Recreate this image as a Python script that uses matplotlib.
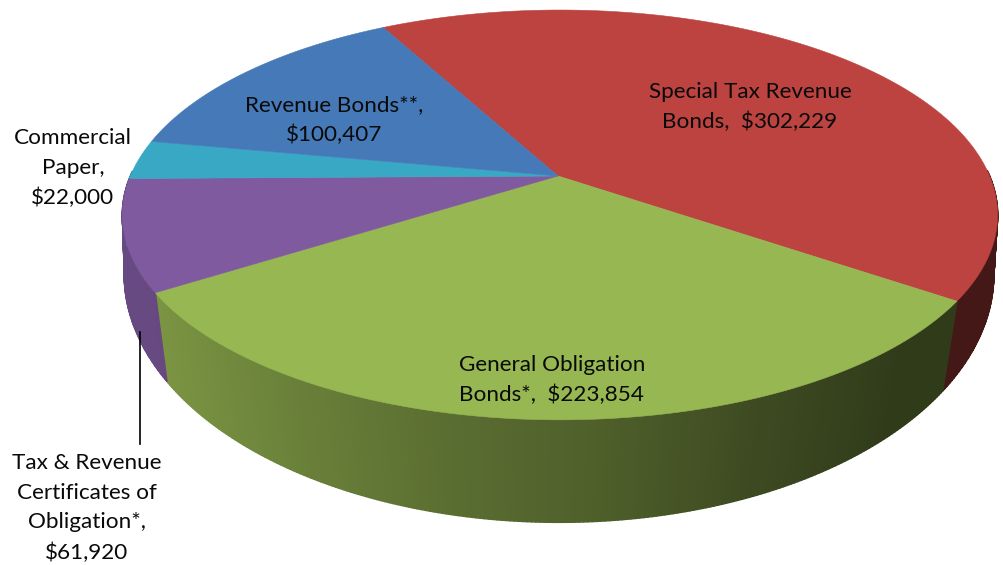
"""
Outstanding debt by type, drawn as a tilted 3D pie.
matplotlib has no perspective pie, so the slices are projected by hand.
"""
import matplotlib
matplotlib.use("Agg")
import matplotlib.pyplot as plt
from matplotlib.collections import PolyCollection
from matplotlib.colors import to_rgb
import numpy as np


CATEGORIES = [
    "Special Tax Revenue\nBonds,",
    "General Obligation\nBonds*,",
    "Tax & Revenue\nCertificates of\nObligation*,\n",
    "Commercial\nPaper,\n",
    "Revenue Bonds**,\n",
]
VALUES = [302229, 223854, 61920, 22000, 100407]
COLORS = ["#BC4340", "#97B752", "#7F5A9E", "#38A8C5", "#4579B8"]

# first slice starts here and the rest run clockwise
START_ANGLE = 118.7

# projection of the unit circle: centre x, centre y, x radius, y radius, perspective
TOP_RIM = (560, 176, 429.6, 197.5, 0.19)
BOTTOM_RIM = (559, 242, 431, 243.8, 0.13)
PIE_CENTER = (558, 176)

# side wall gets darker towards the right
SHADE_X = [150, 300, 450, 600, 750, 900, 1000]
SHADE_LEVEL = [0.82, 0.70, 0.60, 0.52, 0.41, 0.32, 0.32]
SLICE_SHADE_BOOST = [1.12, 1.0, 1.0, 1.0, 1.0]

LABEL_POS = [(750, 107), (552, 380), (87, 508), (73, 168), (334, 120)]
LABEL_SIZE = 16.2


def project(angles, rim):
    cx, cy, a, b, k = rim
    u = np.cos(angles)
    v = np.sin(angles)
    w = 1 + k * v
    return cx + a * u / w, cy - b * v / w


def slice_angles():
    fractions = np.array(VALUES) / sum(VALUES)
    edges = START_ANGLE - np.concatenate([[0], np.cumsum(fractions)]) * 360
    return np.radians(edges)


def draw_side(ax, t0, t1, color, boost):
    ts = np.linspace(t0, t1, max(int(abs(t1 - t0) * 180 / np.pi * 2), 2) + 1)
    # the far half of the wall is hidden behind the top face
    ts = ts[np.sin(ts) < 0.03]
    if len(ts) < 2:
        return
    xt, yt = project(ts, TOP_RIM)
    xb, yb = project(ts, BOTTOM_RIM)
    quads = []
    colors = []
    base = np.array(to_rgb(color))
    for i in range(len(ts) - 1):
        quads.append([(xt[i], yt[i]), (xt[i + 1], yt[i + 1]),
                      (xb[i + 1], yb[i + 1]), (xb[i], yb[i])])
        level = np.interp((xt[i] + xb[i]) / 2, SHADE_X, SHADE_LEVEL) * boost
        colors.append(np.clip(base * level, 0, 1))
    ax.add_collection(PolyCollection(quads, facecolors=colors, edgecolors=colors,
                                     linewidths=1.2, zorder=1))


def draw_top(ax, t0, t1, color):
    ts = np.linspace(t0, t1, 200)
    x, y = project(ts, TOP_RIM)
    xs = np.concatenate([[PIE_CENTER[0]], x])
    ys = np.concatenate([[PIE_CENTER[1]], y])
    ax.fill(xs, ys, facecolor=color, edgecolor=color, linewidth=0.4, zorder=2)


def main():
    fig = plt.figure(figsize=(10.04, 5.65), dpi=100)
    ax = fig.add_axes([0, 0, 1, 1])
    ax.set_xlim(0, 1004)
    ax.set_ylim(565, 0)
    ax.axis("off")

    edges = slice_angles()
    for i, color in enumerate(COLORS):
        draw_side(ax, edges[i], edges[i + 1], color, SLICE_SHADE_BOOST[i])
    for i, color in enumerate(COLORS):
        draw_top(ax, edges[i], edges[i + 1], color)

    # leader for the label that sits outside the pie
    ax.plot([140, 140], [332, 444], color="black", linewidth=1.2, zorder=3)

    for name, value, (x, y) in zip(CATEGORIES, VALUES, LABEL_POS):
        gap = "" if name.endswith("\n") else "  "
        ax.text(x, y, f"{name}{gap}${value:,}", ha="center", va="center",
                multialignment="center", family="Lato", fontsize=LABEL_SIZE,
                color="#0a0a0a", linespacing=1.6, zorder=4)

    fig.savefig("out.png", dpi=100)
    plt.close(fig)


if __name__ == "__main__":
    main()
